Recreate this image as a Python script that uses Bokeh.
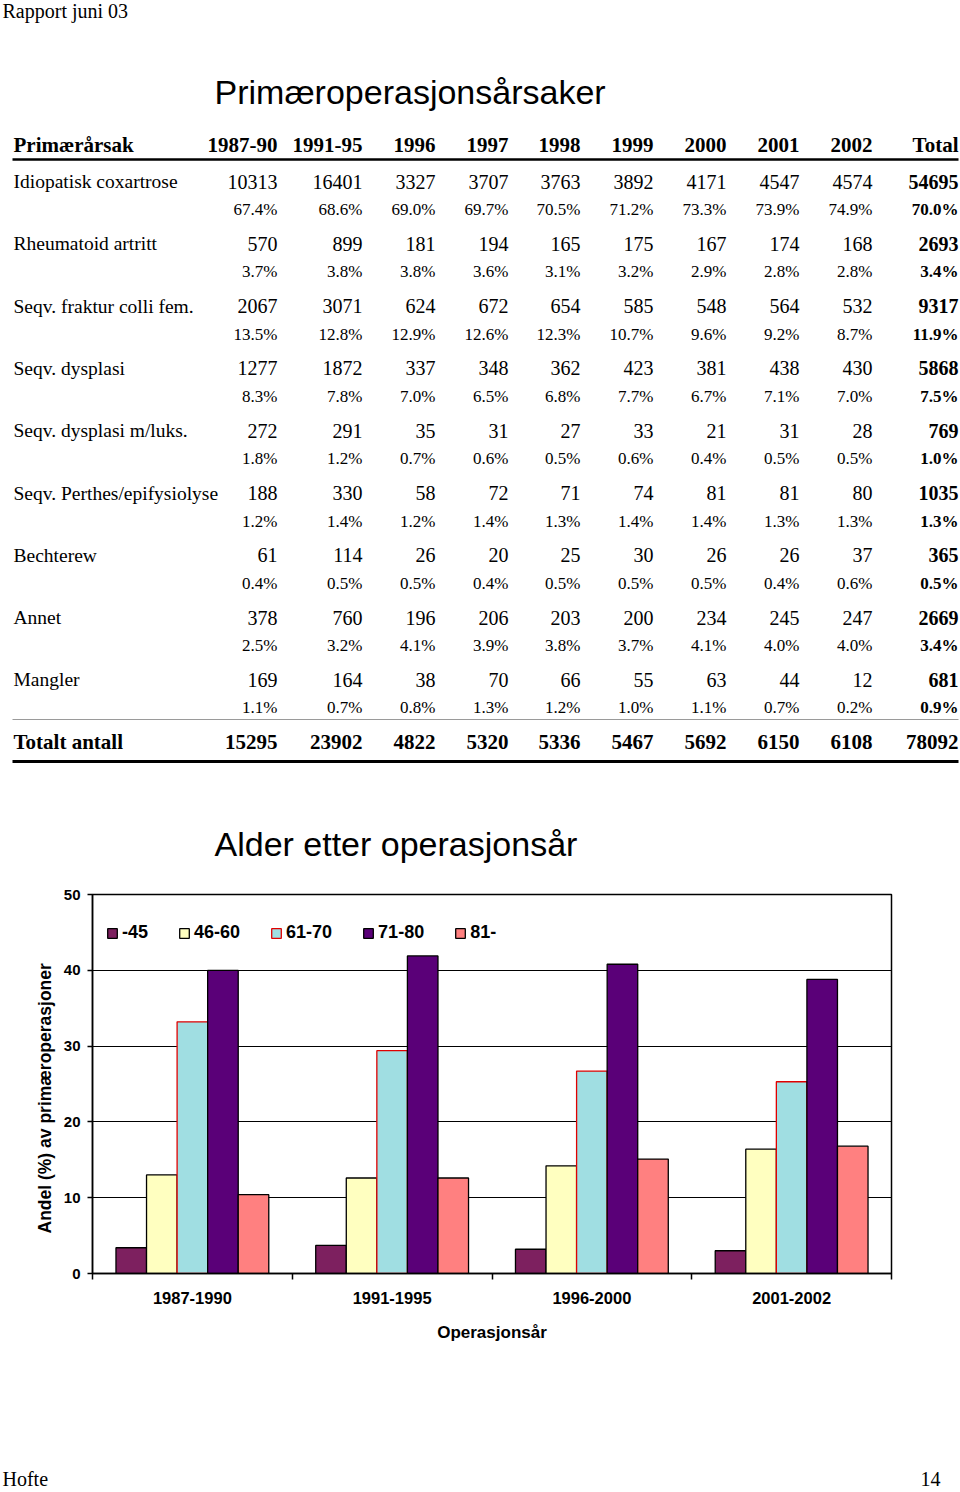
from bokeh.plotting import figure
from bokeh.models import Range1d, ColumnDataSource, FixedTicker, Title
from bokeh.transform import dodge
from bokeh.core.properties import value
from bokeh.embed import file_html
from bokeh.resources import INLINE

SERIF = "Liberation Serif"
SANS = "Liberation Sans"

# ---------------- table data ----------------
periods = ["1987-90", "1991-95", "1996", "1997", "1998", "1999", "2000", "2001", "2002", "Total"]
causes = ["Idiopatisk coxartrose", "Rheumatoid artritt", "Seqv. fraktur colli fem.",
          "Seqv. dysplasi", "Seqv. dysplasi m/luks.", "Seqv. Perthes/epifysiolyse",
          "Bechterew", "Annet", "Mangler"]

n_idiopatisk = [10313, 16401, 3327, 3707, 3763, 3892, 4171, 4547, 4574, 54695]
p_idiopatisk = [67.4, 68.6, 69.0, 69.7, 70.5, 71.2, 73.3, 73.9, 74.9, 70.0]
n_rheumatoid = [570, 899, 181, 194, 165, 175, 167, 174, 168, 2693]
p_rheumatoid = [3.7, 3.8, 3.8, 3.6, 3.1, 3.2, 2.9, 2.8, 2.8, 3.4]
n_fraktur = [2067, 3071, 624, 672, 654, 585, 548, 564, 532, 9317]
p_fraktur = [13.5, 12.8, 12.9, 12.6, 12.3, 10.7, 9.6, 9.2, 8.7, 11.9]
n_dysplasi = [1277, 1872, 337, 348, 362, 423, 381, 438, 430, 5868]
p_dysplasi = [8.3, 7.8, 7.0, 6.5, 6.8, 7.7, 6.7, 7.1, 7.0, 7.5]
n_luks = [272, 291, 35, 31, 27, 33, 21, 31, 28, 769]
p_luks = [1.8, 1.2, 0.7, 0.6, 0.5, 0.6, 0.4, 0.5, 0.5, 1.0]
n_perthes = [188, 330, 58, 72, 71, 74, 81, 81, 80, 1035]
p_perthes = [1.2, 1.4, 1.2, 1.4, 1.3, 1.4, 1.4, 1.3, 1.3, 1.3]
n_bechterew = [61, 114, 26, 20, 25, 30, 26, 26, 37, 365]
p_bechterew = [0.4, 0.5, 0.5, 0.4, 0.5, 0.5, 0.5, 0.4, 0.6, 0.5]
n_annet = [378, 760, 196, 206, 203, 200, 234, 245, 247, 2669]
p_annet = [2.5, 3.2, 4.1, 3.9, 3.8, 3.7, 4.1, 4.0, 4.0, 3.4]
n_mangler = [169, 164, 38, 70, 66, 55, 63, 44, 12, 681]
p_mangler = [1.1, 0.7, 0.8, 1.3, 1.2, 1.0, 1.1, 0.7, 0.2, 0.9]
n_totalt = [15295, 23902, 4822, 5320, 5336, 5467, 5692, 6150, 6108, 78092]

counts = [n_idiopatisk, n_rheumatoid, n_fraktur, n_dysplasi, n_luks,
          n_perthes, n_bechterew, n_annet, n_mangler]
pcts = [p_idiopatisk, p_rheumatoid, p_fraktur, p_dysplasi, p_luks,
        p_perthes, p_bechterew, p_annet, p_mangler]

# ---------------- chart data ----------------
year_groups = ["1987-1990", "1991-1995", "1996-2000", "2001-2002"]
age_labels = ["-45", "46-60", "61-70", "71-80", "81-"]
age_u45 = [3.4, 3.7, 3.2, 3.0]
age_46_60 = [13.0, 12.6, 14.2, 16.4]
age_61_70 = [33.2, 29.4, 26.7, 25.3]
age_71_80 = [40.0, 41.9, 40.8, 38.8]
age_81 = [10.4, 12.6, 15.1, 16.8]

# ---------------- layout (page geometry) ----------------
W = 960
col_right = [277, 362, 435, 508, 580, 653, 726, 799, 872, 958]
label_x = 13
row0 = 181
row_step = 62.3
pct_gap = 28

top = figure(width=W, height=878, x_range=Range1d(0, 960), y_range=Range1d(878, 0),
             output_backend="svg", toolbar_location=None, min_border=0,
             x_axis_type=None, y_axis_type=None)
top.grid.visible = False
top.outline_line_color = None


def put(fig, xs, ys, texts, size, font=SERIF, style="normal", align="left"):
    fig.text(x=xs, y=ys, text=texts, text_font=value(font), text_font_size=size,
             text_font_style=style, text_align=align, text_baseline="middle",
             text_color="black")


put(top, [2], [10], ["Rapport juni 03"], "20px")
put(top, [214], [91], ["Primæroperasjonsårsaker"], "34px", font=SANS)

# header
put(top, [label_x], [144.5], ["Primærårsak"], "21px", style="bold")
put(top, col_right, [144.5] * len(periods), periods, "21px", style="bold", align="right")
top.segment(x0=[12], y0=[159], x1=[958], y1=[159], line_color="black", line_width=2.5)

for i, name in enumerate(causes):
    yn = row0 + row_step * i
    yp = yn + pct_gap
    put(top, [label_x], [yn], [name], "19.5px")
    put(top, col_right[:-1], [yn] * 9, [str(v) for v in counts[i][:-1]], "20px", align="right")
    put(top, col_right[-1:], [yn], [str(counts[i][-1])], "20px", style="bold", align="right")
    put(top, col_right[:-1], [yp] * 9, ["%.1f%%" % v for v in pcts[i][:-1]], "17px", align="right")
    put(top, col_right[-1:], [yp], ["%.1f%%" % pcts[i][-1]], "17px", style="bold", align="right")

top.segment(x0=[12], y0=[719], x1=[958], y1=[719], line_color="#9a9a9a", line_width=1)
put(top, [label_x], [741], ["Totalt antall"], "21px", style="bold")
put(top, col_right, [741] * len(n_totalt), [str(v) for v in n_totalt], "21px", style="bold", align="right")
top.segment(x0=[12], y0=[761], x1=[958], y1=[761], line_color="black", line_width=3)

put(top, [214], [843], ["Alder etter operasjonsår"], "34px", font=SANS)

# ---------------- bar chart ----------------
src = ColumnDataSource(dict(pos=list(range(len(year_groups))), grp=year_groups,
                            a1=age_u45, a2=age_46_60, a3=age_61_70, a4=age_71_80, a5=age_81))

chart = figure(width=W, height=562, x_range=Range1d(-0.5, 3.5), y_range=Range1d(0, 50),
               output_backend="svg", toolbar_location=None,
               min_border_left=92, min_border_right=69, min_border_top=16, min_border_bottom=167)

bw = 0.153
offsets = [-2 * bw, -bw, 0, bw, 2 * bw]
fields = ["a1", "a2", "a3", "a4", "a5"]
fills = ["#7D205F", "#FFFFC0", "#A0DEE2", "#5A0078", "#FF8080"]
lines = ["black", "black", "#E00000", "black", "black"]
for f, lab, off, fc, lc in zip(fields, age_labels, offsets, fills, lines):
    chart.vbar(x=dodge("pos", off), top=f, width=bw, bottom=0, source=src,
               fill_color=fc, line_color=lc, line_width=1.3, legend_label=lab)

chart.xgrid.visible = False
chart.ygrid.grid_line_color = "black"
chart.ygrid.grid_line_width = 1
chart.outline_line_color = "black"
chart.outline_line_width = 1.5
chart.outline_line_alpha = 1

xa = chart.xaxis[0]
xa.ticker = FixedTicker(ticks=[0, 1, 2, 3], minor_ticks=[-0.5, 0.5, 1.5, 2.5, 3.5])
xa.major_label_overrides = {i: g for i, g in enumerate(year_groups)}
xa.major_tick_line_color = None
xa.major_tick_out = 0
xa.major_tick_in = 0
xa.minor_tick_in = 0
xa.minor_tick_out = 6
xa.minor_tick_line_color = "black"
xa.minor_tick_line_width = 1.5
xa.axis_line_width = 1.5
xa.axis_line_color = "black"
xa.major_label_standoff = 12
xa.major_label_text_font = SANS
xa.major_label_text_font_style = "bold"
xa.major_label_text_font_size = "16.5px"
xa.major_label_text_color = "black"
xa.axis_label = "Operasjonsår"
xa.axis_label_text_font = SANS
xa.axis_label_text_font_style = "bold"
xa.axis_label_text_font_size = "17px"
xa.axis_label_text_color = "black"
xa.axis_label_standoff = 16

ya = chart.yaxis[0]
ya.ticker = FixedTicker(ticks=[0, 10, 20, 30, 40, 50])
ya.major_tick_in = 0
ya.major_tick_out = 5
ya.major_tick_line_width = 1.5
ya.major_tick_line_color = "black"
ya.minor_tick_line_color = None
ya.axis_line_width = 1.5
ya.axis_line_color = "black"
ya.major_label_standoff = 7
ya.major_label_text_font = SANS
ya.major_label_text_font_style = "bold"
ya.major_label_text_font_size = "15px"
ya.major_label_text_color = "black"

chart.add_layout(Title(text="Andel (%) av primæroperasjoner", align="left", offset=40,
                       standoff=12, text_font=SANS, text_font_style="bold",
                       text_font_size="17.5px", text_color="black"), "left")

lg = chart.legend[0]
lg.orientation = "horizontal"
lg.location = (14, 330)
lg.border_line_color = None
lg.background_fill_alpha = 0
lg.padding = 0
lg.margin = 0
lg.spacing = 30
lg.glyph_width = 12
lg.glyph_height = 12
lg.label_standoff = 4
lg.label_text_font = SANS
lg.label_text_font_style = "bold"
lg.label_text_font_size = "18px"
lg.label_text_color = "black"

# ---------------- footer ----------------
foot = figure(width=W, height=50, x_range=Range1d(0, 960), y_range=Range1d(1490, 1440),
              output_backend="svg", toolbar_location=None, min_border=0,
              x_axis_type=None, y_axis_type=None)
foot.grid.visible = False
foot.outline_line_color = None
put(foot, [2], [1478], ["Hofte"], "20px")
put(foot, [940], [1478], ["14"], "20px", align="right")

open("out.html", "w").write(file_html([top, chart, foot], INLINE))
